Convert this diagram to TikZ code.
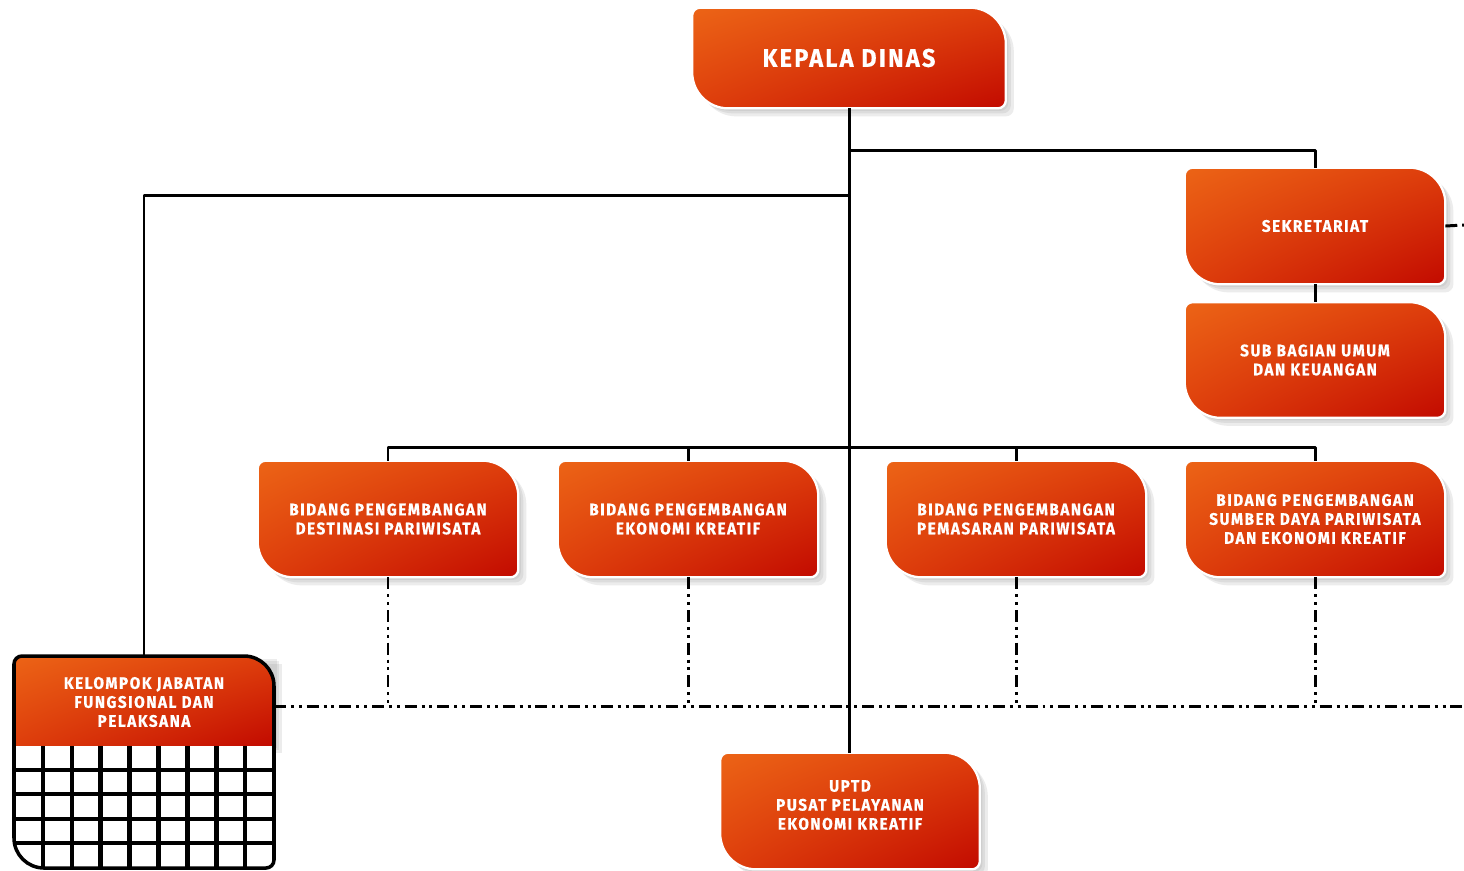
\documentclass[tikz,border=0pt]{standalone}
\usepackage{fontspec}
\newfontfamily\orgfont[FakeStretch=0.92, LetterSpace=9, FakeBold=0.6]{Fira Sans}
\usetikzlibrary{positioning,calc,backgrounds,shadings}

\definecolor{orgorange}{RGB}{236,100,22}
\definecolor{orgmid}{RGB}{222,62,12}
\definecolor{orgred}{RGB}{194,10,0}
\definecolor{orgshadow}{RGB}{140,140,140}

% card outline: small rounding top left / bottom right, big rounding top right / bottom left
\newcommand{\cardpath}[6]{([yshift=-#5]#1) arc[start angle=180,end angle=90,radius=#5]
  -- ([xshift=-#6]#2) arc[start angle=90,end angle=0,radius=#6]
  -- ([yshift=#5]#3) arc[start angle=0,end angle=-90,radius=#5]
  -- ([xshift=#6]#4) arc[start angle=270,end angle=180,radius=#6] -- cycle}
\newcommand{\boxpath}[1]{\cardpath{#1.north west}{#1.north east}{#1.south east}{#1.south west}{0.16cm}{0.72cm}}
\newcommand{\card}[1]{%
  \foreach \s in {0.05,0.1,0.16}
    \fill[orgshadow, opacity=0.16, transform canvas={xshift=\s cm, yshift=-\s cm}] \boxpath{#1};
  \shadedraw[cardfill, draw=white, line width=1.3pt] \boxpath{#1};
}

\tikzset{
  unit/.style={minimum width=5.2cm, minimum height=2.32cm, inner sep=0pt, align=center,
    text=white, font=\orgfont\bfseries\fontsize{9.5}{10.8}\selectfont},
  link/.style={line width=1.7pt},
  dotlink/.style={line width=1.7pt, dash pattern=on 6.8pt off 2.8pt on 1.7pt off 2.8pt on 1.7pt off 2.8pt},
  cardfill/.style={upper left=orgorange, upper right=orgmid, lower left=orgmid, lower right=orgred},
}

\begin{document}
\begin{tikzpicture}[x=0.02cm, y=-0.02cm, line join=round]
\useasboundingbox (0,0) rectangle (1464,870);

% units
\node[unit, minimum width=6.26cm, minimum height=2cm, font=\orgfont\bfseries\fontsize{14.5}{16}\selectfont]
      (kd)  at (849,58)    {KEPALA DINAS};
\node[unit] (sek) at (1315,226)  {SEKRETARIAT};
\node[unit, minimum height=2.3cm]
      (sub) at (1315,360)  {SUB BAGIAN UMUM\\DAN KEUANGAN};
\node[unit] (b1)  at (388,519)   {BIDANG PENGEMBANGAN\\DESTINASI PARIWISATA};
\node[unit] (b2)  at (688,519)   {BIDANG PENGEMBANGAN\\EKONOMI KREATIF};
\node[unit] (b3)  at (1016,519)  {BIDANG PENGEMBANGAN\\PEMASARAN PARIWISATA};
\node[unit] (b4)  at (1315,519)  {BIDANG PENGEMBANGAN\\SUMBER DAYA PARIWISATA\\DAN EKONOMI KREATIF};
\node[unit, minimum width=5.18cm, text depth=7pt]
      (upt) at (850,811)   {UPTD\\PUSAT PELAYANAN\\EKONOMI KREATIF};
\node[unit, minimum height=1.78cm]
      (kj)  at (144,702)   {KELOMPOK JABATAN\\FUNGSIONAL DAN\\PELAKSANA};

% frame of the functional group with its grid
\coordinate (kf1) at (14,656);
\coordinate (kf2) at (274,656);
\coordinate (kf3) at (274,868);
\coordinate (kf4) at (14,868);
\coordinate (kfs) at (274,745);

\begin{pgfonlayer}{background}
\fill[white] (0,0) rectangle (1464,870);
\foreach \n in {kd,sek,sub,b1,b2,b3,b4,upt} {\card{\n}}
\foreach \s in {0.05,0.1,0.16}
  \fill[orgshadow, opacity=0.16, transform canvas={xshift=\s cm, yshift=-\s cm}]
    (kf1) rectangle (kfs);
\begin{scope}
  \clip \cardpath{kf1}{kf2}{kf3}{kf4}{0.16cm}{0.6cm};
  \fill[white] (kf1) rectangle (kf3);
  \foreach \i in {1,...,8}
    \draw[line width=2.6pt] ({14+\i*28.9},745) -- ({14+\i*28.9},868);
  \foreach \j in {1,...,4}
    \draw[line width=2.3pt] (14,{745+\j*24.6}) -- (274,{745+\j*24.6});
  \shade[cardfill] (kf1) rectangle (kfs);
\end{scope}
\draw[line width=2pt] \cardpath{kf1}{kf2}{kf3}{kf4}{0.16cm}{0.6cm};
\end{pgfonlayer}

% solid lines
\coordinate (bus) at (0,447);
\draw[link] (kd.south) -- (kd.south |- upt.north);
\draw[link] (kd.south |- 0,150) -| (sek.north);
\draw[link] (kd.south |- 0,195) -| (kf1 -| kj.north);
\draw[link] (sek) -- (sub);
\draw[link] (b1.north) |- (bus -| b4.north) -- (b4.north);
\foreach \b in {b2,b3}
  \draw[link] (\b.north) -- (\b.north |- bus);

% dash dot lines
\coordinate (dotbus) at (0,706);
\coordinate (dotend) at (1464,706);
\coordinate (sekend) at (1464,225);
\foreach \b in {b1,b2,b3,b4}
  \draw[dotlink] (\b.south) -- (\b.south |- dotbus);
\draw[dotlink] (kf2 |- dotbus) -- (dotend);
\draw[dotlink] (sek.east) -- (sekend);
\end{tikzpicture}
\end{document}
